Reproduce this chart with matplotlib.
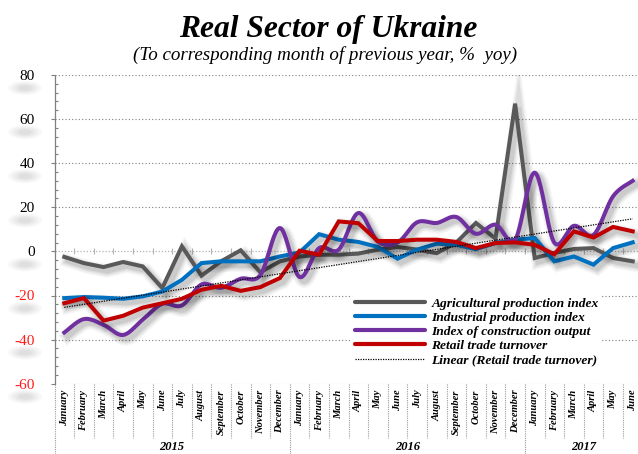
import numpy as np
import matplotlib
matplotlib.use('Agg')
import matplotlib.pyplot as plt
import matplotlib.patheffects as pe
from matplotlib.lines import Line2D
from matplotlib.patches import Ellipse
from matplotlib.ticker import MultipleLocator
from matplotlib.font_manager import FontProperties

# ---------------- data ----------------
months = ["January", "February", "March", "April", "May", "June", "July",
          "August", "September", "October", "November", "December"]
month_labels = months + months + months[:6]
years = ["2015", "2016", "2017"]
year_lengths = [12, 12, 6]

agricultural = [-2.5, -5.3, -7.1, -4.8, -6.8, -16.6, 2.3, -11.0, -4.5, 0.5, -9.5, -4.5,
                -2.3, -1.5, -1.5, -1.0, 0.8, 2.0, 0.8, -0.8, 4.0, 12.9, 5.8, 67.0,
                -3.0, -0.7, 1.1, 1.5, -3.0, -4.5]
industrial = [-21.2, -20.7, -21.0, -21.5, -20.4, -18.2, -12.9, -5.3, -4.5, -4.5, -4.5, -2.3,
              -0.5, 7.8, 5.3, 4.3, 2.0, -3.3, 0.8, 3.5, 3.0, 1.0, 3.8, 5.3,
              6.1, -4.5, -2.3, -6.0, 1.5, 4.1]
construction = [-36.8, -30.7, -33.3, -37.9, -31.0, -23.8, -24.5, -15.0, -16.5, -12.4, -10.8, 10.6,
                -11.6, 1.5, 0.8, 17.4, 4.5, 4.0, 13.2, 12.9, 15.6, 8.0, 12.1, 5.3,
                35.7, 4.0, 11.6, 7.5, 25.0, 32.0]
retail = [-23.5, -21.2, -31.4, -29.2, -25.5, -23.5, -21.5, -17.4, -15.6, -17.9, -16.2, -12.1,
          0.3, -1.5, 13.6, 12.8, 4.7, 4.7, 5.3, 5.3, 4.3, 1.5, 3.8, 4.1,
          3.0, -1.3, 9.1, 6.3, 11.1, 9.1]

series_names = ["Agricultural production index", "Industrial production index",
                "Index of construction output", "Retail trade turnover",
                "Linear (Retail trade turnover)"]
colors = ["#595959", "#0070C0", "#7030A0", "#C00000"]

serif = "Liberation Serif"

# ---------------- helpers ----------------
def smooth_curve(xv, yv, n=24):
    pts = np.column_stack([xv, yv]).astype(float)
    out = [pts[0]]
    m = len(pts)
    for i in range(m - 1):
        p0 = pts[i - 1] if i > 0 else pts[i]
        p1 = pts[i]
        p2 = pts[i + 1]
        p3 = pts[i + 2] if i + 2 < m else pts[i + 1]
        c1 = p1 + (p2 - p0) / 6.0
        c2 = p2 - (p3 - p1) / 6.0
        t = np.linspace(0, 1, n)[1:, None]
        seg = ((1 - t) ** 3) * p1 + 3 * ((1 - t) ** 2) * t * c1 + 3 * (1 - t) * t ** 2 * c2 + t ** 3 * p2
        out.extend(seg)
    out = np.array(out)
    return out[:, 0], out[:, 1]

def shadow_effects(lw):
    eff = []
    for extra, a in [(7, 0.035), (5, 0.045), (3, 0.06), (1, 0.08)]:
        eff.append(pe.SimpleLineShadow(offset=(2.5, -2.8), shadow_color='black',
                                       alpha=a, linewidth=lw + extra))
    eff.append(pe.Normal())
    return eff

# ---------------- figure ----------------
W, H = 638, 454
fig = plt.figure(figsize=(W / 100, H / 100), dpi=100)
fig.patch.set_facecolor('white')

ax_left, ax_right = 54.5, 642.5
ax_top, ax_bot = 75.0, 383.7
ax = fig.add_axes([ax_left / W, 1 - ax_bot / H, (ax_right - ax_left) / W, (ax_bot - ax_top) / H])
ax.set_facecolor('none')

x = np.arange(len(month_labels))
ax.set_xlim(-0.5, len(month_labels) - 0.5)
ax.set_ylim(-60, 80)

# grid lines
grid_c = '#7f7f7f'
for v in [-60, -40, -20, 20, 40, 60, 80]:
    ax.axhline(v, color=grid_c, lw=0.8, ls=(0, (1, 2)), zorder=1)
ax.axhline(0, color='#b4b4b4', lw=0.9, ls=(0, (1, 1.5)), zorder=1)
bounds = np.arange(-0.5, len(month_labels), 1.0)
ax.plot(bounds, np.zeros_like(bounds), ls='none', marker='|', ms=4, mew=0.8,
        color='#b4b4b4', zorder=1)

# spines & ticks
for s in ['top', 'right', 'bottom']:
    ax.spines[s].set_visible(False)
ax.spines['left'].set_color(grid_c)
ax.spines['left'].set_linestyle((0, (1, 1)))
ax.spines['left'].set_linewidth(0.9)
ax.set_xticks([])
yticks = list(range(-60, 81, 20))
ax.set_yticks(yticks)
ax.yaxis.set_minor_locator(MultipleLocator(4))
ax.tick_params(axis='y', which='major', length=3, width=0.8, color=grid_c,
               direction='out', pad=11, labelsize=11)
ax.tick_params(axis='y', which='minor', length=2, width=0.8, color=grid_c, direction='in')
ax.set_yticklabels([str(v) for v in yticks])
for lab, v in zip(ax.get_yticklabels(), yticks):
    lab.set_fontfamily(serif)
    lab.set_fontsize(11)
    lab.set_color('#FF1A1A' if v < 0 else 'black')

# soft shadows behind tick labels
for v in yticks:
    ypx = H - (ax_top + (80 - v) / 140 * (ax_bot - ax_top)) - 13
    for k, a in [(1.0, 0.05), (0.8, 0.06), (0.6, 0.07), (0.4, 0.08)]:
        e = Ellipse((25, ypx), 34 * k, 14 * k, transform=None, facecolor='#808080',
                    edgecolor='none', alpha=a, zorder=-5)
        fig.patches.append(e)

# ---------------- series ----------------
lw = 2.9
ax.plot(x, agricultural, color=colors[0], lw=lw, solid_joinstyle='miter', zorder=3,
        path_effects=shadow_effects(lw))
ax.plot(x, industrial, color=colors[1], lw=lw, solid_joinstyle='miter', zorder=4,
        path_effects=shadow_effects(lw))
sx, sy = smooth_curve(x, construction)
ax.plot(sx, sy, color=colors[2], lw=lw, zorder=5, path_effects=shadow_effects(lw))
ax.plot(x, retail, color=colors[3], lw=lw, solid_joinstyle='miter', zorder=6,
        path_effects=shadow_effects(lw))
coef = np.polyfit(x, retail, 1)
ax.plot(x, np.polyval(coef, x), color='black', lw=0.9, ls=(0, (1, 1)), zorder=7)

# ---------------- category axis labels ----------------
xt = ax.get_xaxis_transform()
axh = ax_bot - ax_top
for i, lab in enumerate(month_labels):
    ax.text(i, -6.0 / axh, lab, transform=xt, rotation=90, ha='center', va='top',
            fontsize=7.6, fontweight='bold', fontstyle='italic', family=serif, clip_on=False)
year_starts = np.concatenate([[0], np.cumsum(year_lengths)])
for b in bounds:
    is_year = np.any(np.isclose(b + 0.5, year_starts))
    y1 = -(H - ax_bot) / axh if is_year else -54.5 / axh
    ax.plot([b, b], [0, y1], transform=xt, color='#9a9a9a', lw=0.8, ls=(0, (1, 1)),
            clip_on=False, zorder=1)
for yr, s, n in zip(years, year_starts[:-1], year_lengths):
    ax.text(s + (n - 1) / 2.0, -(453.0 - ax_bot) / axh, yr, transform=xt, ha='center',
            va='bottom', fontsize=9, fontweight='bold', fontstyle='italic', family=serif,
            clip_on=False)

# ---------------- titles ----------------
fig.text(328 / W, 1 - 37.5 / H, "Real Sector of Ukraine", ha='center', va='baseline',
         fontsize=22.7, fontweight='bold', fontstyle='italic', family=serif)
fig.text(325 / W, 1 - 59.5 / H, "(To corresponding month of previous year, %  yoy)",
         ha='center', va='baseline', fontsize=13.7, fontstyle='italic', family=serif)

# ---------------- legend ----------------
handles = [Line2D([], [], color=c, lw=3.0, solid_capstyle='round') for c in colors]
handles.append(Line2D([], [], color='black', lw=0.9, ls=(0, (1, 1))))
leg = ax.legend(handles, series_names, loc='upper left',
                bbox_to_anchor=(352 / W, 1 - 294.5 / H), bbox_transform=fig.transFigure,
                prop=FontProperties(family=serif, weight='bold', style='italic', size=9.7),
                handlelength=5.2, handletextpad=0.5, labelspacing=0.13, borderpad=0.2,
                frameon=True, facecolor='white', edgecolor='none', framealpha=1,
                borderaxespad=0)
leg.set_zorder(10)

fig.savefig('out.png', dpi=100)
